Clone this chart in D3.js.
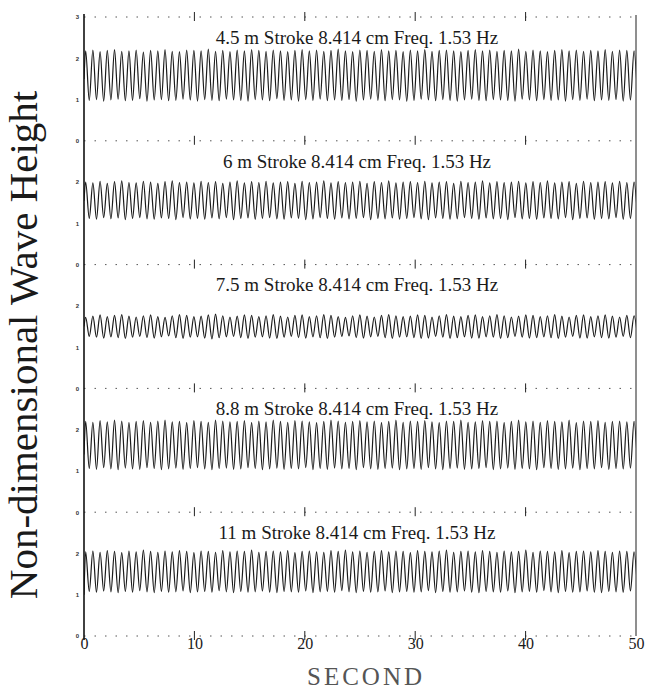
<!DOCTYPE html>
<html>
<head>
<meta charset="utf-8">
<script src="https://cdn.jsdelivr.net/npm/d3@7"></script>
<style>
    body { margin: 0; background: #fff; }
</style>
</head>
<body>
<div id="chart"></div>
<script>
// panel titles, top to bottom
var titles = [
    "4.5 m Stroke 8.414 cm Freq. 1.53 Hz",
    "6 m Stroke 8.414 cm Freq. 1.53 Hz",
    "7.5 m Stroke 8.414 cm Freq. 1.53 Hz",
    "8.8 m Stroke 8.414 cm Freq. 1.53 Hz",
    "11 m Stroke 8.414 cm Freq. 1.53 Hz"
];
var xTicks = [0, 10, 20, 30, 40, 50];
var gridTicks = [10, 20, 30, 40];

// wave record: 1.53 Hz, first crest near 0.15 s
var freqHz = 1.53;
var firstCrest = 0.15;
var startLevels = [1.50, 1.55, 1.50, 1.40, 1.00];

// crest / trough heights
var crests1 = [2.18,2.20,2.16,2.19,2.21,2.17,2.18,2.20,2.15,2.19,2.18,2.21,2.17,2.16,2.20,2.19,2.18,2.22,2.17,2.19,2.16,2.20,2.18,2.21,2.19,2.17,2.20,2.18,2.16,2.19,2.21,2.18,2.20,2.17,2.19,2.22,2.18,2.16,2.20,2.19,2.17,2.21,2.18,2.19,2.16,2.20,2.18,2.21,2.17,2.19,2.20,2.18,2.16,2.19,2.21,2.18,2.20,2.17,2.19,2.18,2.22,2.17,2.20,2.18,2.16,2.19,2.21,2.18,2.20,2.17,2.19,2.18,2.21,2.17,2.20,2.19,2.18];
var troughs1 = [0.98,1.00,0.96,0.99,1.01,0.97,0.98,1.02,0.96,0.99,1.00,0.97,0.98,1.01,0.99,0.96,1.00,0.98,0.97,1.01,0.99,0.98,0.96,1.00,0.99,0.97,1.02,0.98,0.99,0.96,1.00,0.98,1.01,0.97,0.99,0.98,1.00,0.96,0.99,1.01,0.98,0.97,1.00,0.99,0.96,0.98,1.01,0.99,0.97,1.00,0.98,0.96,0.99,1.01,0.98,0.97,1.00,0.99,0.98,0.96,1.01,0.99,0.97,1.00,0.98,0.99,0.96,1.00,0.98,1.01,0.97,0.99,0.98,1.00,0.96,0.99,0.98];
var crests2 = [2.00,1.98,2.02,1.97,2.01,2.03,1.99,1.98,2.02,2.00,1.97,2.01,2.03,1.99,2.00,1.98,2.02,1.99,2.01,1.97,2.00,2.03,1.98,2.01,1.99,2.02,1.98,2.00,2.01,1.97,2.02,1.99,2.00,2.03,1.98,2.01,1.99,2.00,2.02,1.97,2.01,1.99,2.03,1.98,2.00,2.01,1.99,2.02,1.98,2.00,2.01,1.97,2.02,1.99,2.00,2.03,1.98,2.01,1.99,2.00,2.02,1.98,2.01,1.99,2.03,1.98,2.00,2.01,1.97,2.02,1.99,2.00,2.01,1.98,2.02,1.99,2.00];
var troughs2 = [1.12,1.10,1.14,1.11,1.13,1.09,1.12,1.14,1.11,1.10,1.13,1.12,1.09,1.14,1.11,1.12,1.10,1.13,1.11,1.14,1.09,1.12,1.13,1.10,1.12,1.14,1.11,1.10,1.13,1.12,1.09,1.11,1.14,1.12,1.10,1.13,1.11,1.12,1.14,1.09,1.12,1.11,1.13,1.10,1.12,1.14,1.11,1.09,1.13,1.12,1.10,1.11,1.14,1.12,1.10,1.13,1.11,1.12,1.09,1.14,1.11,1.12,1.10,1.13,1.12,1.11,1.14,1.09,1.12,1.13,1.10,1.12,1.11,1.14,1.10,1.12,1.11];
var crests3 = [1.72,1.75,1.78,1.74,1.77,1.79,1.75,1.73,1.76,1.78,1.74,1.72,1.76,1.79,1.77,1.74,1.75,1.78,1.80,1.76,1.73,1.75,1.78,1.77,1.74,1.76,1.79,1.75,1.73,1.77,1.78,1.74,1.76,1.79,1.77,1.74,1.72,1.76,1.78,1.75,1.73,1.77,1.79,1.76,1.74,1.75,1.78,1.77,1.73,1.76,1.79,1.75,1.74,1.77,1.78,1.74,1.76,1.79,1.76,1.73,1.75,1.78,1.77,1.74,1.76,1.79,1.75,1.73,1.77,1.78,1.74,1.76,1.78,1.75,1.73,1.77,1.76];
var troughs3 = [1.26,1.24,1.22,1.25,1.23,1.21,1.24,1.26,1.23,1.22,1.25,1.27,1.23,1.21,1.24,1.25,1.22,1.20,1.23,1.25,1.26,1.23,1.21,1.24,1.25,1.22,1.21,1.24,1.26,1.23,1.22,1.25,1.23,1.21,1.24,1.26,1.27,1.23,1.22,1.25,1.26,1.23,1.21,1.24,1.25,1.23,1.21,1.22,1.26,1.24,1.21,1.23,1.25,1.22,1.22,1.25,1.24,1.21,1.23,1.26,1.24,1.22,1.23,1.25,1.23,1.21,1.24,1.26,1.22,1.22,1.25,1.23,1.22,1.24,1.26,1.23,1.24];
var crests4 = [2.20,2.18,2.22,2.19,2.23,2.21,2.17,2.20,2.22,2.18,2.21,2.23,2.19,2.20,2.17,2.22,2.20,2.18,2.23,2.21,2.19,2.20,2.22,2.17,2.21,2.19,2.23,2.20,2.18,2.22,2.21,2.19,2.17,2.20,2.23,2.21,2.18,2.20,2.22,2.19,2.21,2.17,2.20,2.23,2.18,2.21,2.20,2.22,2.19,2.17,2.21,2.20,2.23,2.18,2.19,2.22,2.20,2.21,2.17,2.20,2.23,2.19,2.21,2.18,2.22,2.20,2.19,2.23,2.17,2.21,2.20,2.22,2.18,2.20,2.21,2.19,2.20];
var troughs4 = [1.06,1.04,1.08,1.05,1.03,1.07,1.05,1.04,1.08,1.06,1.03,1.05,1.07,1.04,1.06,1.08,1.05,1.03,1.06,1.07,1.04,1.05,1.08,1.06,1.03,1.05,1.07,1.04,1.06,1.05,1.08,1.03,1.06,1.04,1.07,1.05,1.06,1.03,1.08,1.05,1.04,1.06,1.07,1.03,1.05,1.06,1.04,1.08,1.05,1.03,1.06,1.07,1.04,1.05,1.06,1.08,1.03,1.05,1.07,1.04,1.06,1.05,1.03,1.08,1.06,1.04,1.05,1.07,1.03,1.06,1.05,1.08,1.04,1.06,1.05,1.07,1.05];
var crests5 = [2.04,2.06,2.03,2.07,2.05,2.02,2.06,2.04,2.08,2.05,2.03,2.06,2.04,2.07,2.05,2.02,2.06,2.05,2.03,2.07,2.04,2.06,2.05,2.08,2.03,2.05,2.06,2.04,2.07,2.02,2.05,2.06,2.04,2.03,2.07,2.05,2.08,2.04,2.06,2.03,2.05,2.07,2.04,2.06,2.05,2.02,2.07,2.05,2.04,2.06,2.08,2.03,2.05,2.06,2.04,2.07,2.05,2.03,2.06,2.04,2.05,2.08,2.03,2.06,2.05,2.04,2.07,2.02,2.05,2.06,2.04,2.07,2.05,2.03,2.06,2.05,2.04];
var troughs5 = [1.08,1.06,1.09,1.07,1.05,1.08,1.06,1.10,1.07,1.05,1.08,1.06,1.07,1.09,1.05,1.07,1.08,1.06,1.10,1.07,1.05,1.08,1.06,1.07,1.09,1.06,1.05,1.08,1.07,1.06,1.09,1.05,1.07,1.08,1.06,1.10,1.07,1.05,1.08,1.06,1.07,1.09,1.05,1.07,1.08,1.06,1.07,1.10,1.05,1.08,1.06,1.07,1.09,1.06,1.05,1.08,1.07,1.06,1.09,1.05,1.07,1.08,1.06,1.10,1.07,1.05,1.08,1.06,1.07,1.09,1.06,1.05,1.08,1.07,1.06,1.09,1.07];

var crests = [crests1, crests2, crests3, crests4, crests5];
var troughs = [troughs1, troughs2, troughs3, troughs4, troughs5];

var serif = "'Liberation Serif', 'Times New Roman', serif";

// set the dimensions and margins of the graph
var margin = { top: 17, right: 17, bottom: 55, left: 84 },
    width = 653 - margin.left - margin.right,
    height = 691 - margin.top - margin.bottom,
    panelH = height / titles.length;

var svg = d3.select("#chart")
    .append("svg")
    .attr("width", width + margin.left + margin.right)
    .attr("height", height + margin.top + margin.bottom)
    .append("g")
    .attr("transform", "translate(" + margin.left + "," + margin.top + ")");

svg.append("defs").append("clipPath")
    .attr("id", "clip")
    .append("rect")
    .attr("x", 0).attr("y", -10)
    .attr("width", width).attr("height", panelH + 20);

var x = d3.scaleLinear()
    .domain([0, 50])
    .range([0, width]);

var y = d3.scaleLinear()
    .domain([0, 3])
    .range([panelH, 0]);

var halfPeriod = 1 / (2 * freqHz);

var line = d3.line()
    .x(function (d) { return x(d.t); })
    .y(function (d) { return y(d.v); })
    .curve(d3.curveMonotoneX);

// dotted record boundaries with the 10 s marks
function boundary(yPos) {
    svg.append("line")
        .attr("x1", 0).attr("x2", width)
        .attr("y1", yPos).attr("y2", yPos)
        .style("stroke", "#555")
        .style("stroke-width", 1)
        .style("stroke-dasharray", "1.5,9");
    svg.selectAll(null)
        .data(gridTicks)
        .enter()
        .append("line")
        .attr("x1", function (d) { return x(d); })
        .attr("x2", function (d) { return x(d); })
        .attr("y1", yPos - 5)
        .attr("y2", yPos + 4)
        .style("stroke", "#222")
        .style("stroke-width", 1);
}

titles.forEach(function (title, i) {
    var g = svg.append("g")
        .attr("transform", "translate(0," + (i * panelH) + ")");

    boundary(i * panelH);

    // small y labels
    var yAxis = g.append("g")
        .call(d3.axisLeft(y)
            .tickValues(i === 0 ? [0, 1, 2, 3] : [0, 1, 2])
            .tickFormat(d3.format("d"))
            .tickSize(0)
            .tickPadding(5));
    yAxis.select(".domain").remove();
    yAxis.selectAll("text")
        .style("font-family", "Arial, sans-serif")
        .style("font-size", "6px")
        .style("font-weight", "bold")
        .style("fill", "#333");

    // build the record from the crest / trough readings
    var pts = [{ t: 0, v: startLevels[i] }];
    crests[i].forEach(function (c, k) {
        pts.push({ t: firstCrest + 2 * k * halfPeriod, v: c });
        if (k < troughs[i].length) {
            pts.push({ t: firstCrest + (2 * k + 1) * halfPeriod, v: troughs[i][k] });
        }
    });

    g.append("path")
        .datum(pts)
        .attr("clip-path", "url(#clip)")
        .attr("fill", "none")
        .attr("stroke", "#1a1a1a")
        .attr("stroke-width", 1.2)
        .attr("d", line);

    g.append("text")
        .attr("x", width / 2 - 3)
        .attr("y", y(2.35))
        .attr("text-anchor", "middle")
        .style("font-family", serif)
        .style("font-size", "19px")
        .style("fill", "#1a1a1a")
        .text(title);
});
boundary(height);

// left and right frame
svg.append("line")
    .attr("x1", 0).attr("x2", 0)
    .attr("y1", -3).attr("y2", height + 4)
    .style("stroke", "#111").style("stroke-width", 1.6);
svg.append("line")
    .attr("x1", width).attr("x2", width)
    .attr("y1", -2).attr("y2", height)
    .style("stroke", "#333").style("stroke-width", 1.1);

// X axis
var xAxis = svg.append("g")
    .attr("transform", "translate(0," + height + ")")
    .call(d3.axisBottom(x).tickValues(xTicks).tickSize(0).tickPadding(2));
xAxis.select(".domain").remove();
xAxis.selectAll("text")
    .style("font-family", serif)
    .style("font-size", "16px")
    .style("fill", "#1a1a1a");

// X axis label
svg.append("text")
    .attr("text-anchor", "middle")
    .attr("x", width / 2 + 6)
    .attr("y", height + 49)
    .style("font-family", serif)
    .style("font-size", "25px")
    .style("letter-spacing", "3px")
    .style("fill", "#555")
    .text("SECOND");

// Y axis label
svg.append("text")
    .attr("text-anchor", "middle")
    .attr("transform", "rotate(-90)")
    .attr("x", -(345 - margin.top))
    .attr("y", -margin.left + 37)
    .style("font-family", serif)
    .style("font-size", "41px")
    .style("fill", "#1a1a1a")
    .text("Non-dimensional Wave Height");
</script>
</body>
</html>
